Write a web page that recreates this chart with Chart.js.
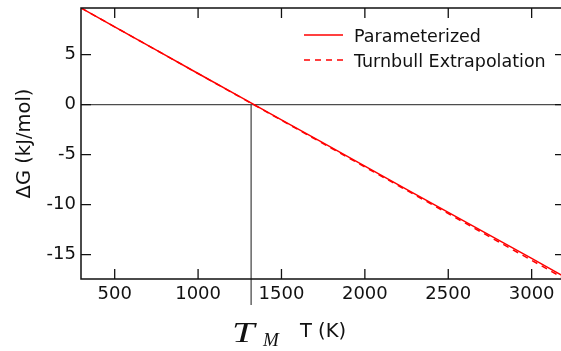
<!DOCTYPE html>
<html>
<head>
<meta charset="utf-8">
<script src="https://cdn.jsdelivr.net/npm/chart.js@4"></script>
<style>
  html, body { margin: 0; padding: 0; background: #fff; overflow: hidden; }
  #wrap { width: 567px; height: 351px; }
</style>
</head>
<body>
<div id="wrap"><canvas id="c" width="567" height="351"></canvas></div>
<script>
// Free energy difference vs temperature
const temperatures    = [298, 500, 750, 1000, 1250, 1500, 1750, 2000, 2250, 2500, 2750, 3000, 3200];
const parameterizedDG = [9.67, 7.78, 5.45, 3.12, 0.80, -1.52, -3.83, -6.15, -8.47, -10.78, -13.08, -15.38, -17.25];
const turnbullT       = [298, 3200];
const turnbullDG      = [9.67, -17.44];
const meltingPoint    = 1318;
const xTicks = [500, 1000, 1500, 2000, 2500, 3000];
const yTicks = [-15, -10, -5, 0, 5];
const xRange = [298, 3200];
const yRange = [-17.44, 9.67];
const seriesLabels = ['Parameterized', 'Turnbull Extrapolation'];

const FONT = "'DejaVu Sans', sans-serif";
Chart.defaults.font.family = FONT;
Chart.defaults.color = '#111';

const pts = (xs, ys) => xs.map((v, i) => ({ x: v, y: ys[i] }));

const decorations = {
  id: 'decorations',
  beforeDatasetsDraw(chart) {
    const { ctx, chartArea: a, scales: { x, y } } = chart;
    ctx.save();
    ctx.strokeStyle = '#4d4d4d';
    ctx.lineWidth = 1.3;
    const y0 = y.getPixelForValue(0);
    ctx.beginPath();
    ctx.moveTo(a.left, y0);
    ctx.lineTo(a.right, y0);
    ctx.stroke();
    // melting point marker
    const xm = x.getPixelForValue(meltingPoint);
    ctx.beginPath();
    ctx.moveTo(xm, y0);
    ctx.lineTo(xm, a.bottom + 26);
    ctx.stroke();
    ctx.restore();
  },
  afterDraw(chart) {
    const { ctx, chartArea: a, scales: { x, y } } = chart;
    ctx.save();
    // frame
    ctx.strokeStyle = '#111';
    ctx.lineWidth = 1.5;
    ctx.beginPath();
    ctx.moveTo(a.right, a.top);
    ctx.lineTo(a.left, a.top);
    ctx.lineTo(a.left, a.bottom);
    ctx.lineTo(a.right, a.bottom);
    ctx.stroke();
    // inward ticks on all four sides
    ctx.lineWidth = 1.3;
    const TL = 10;
    ctx.beginPath();
    x.ticks.forEach(t => {
      const px = x.getPixelForValue(t.value);
      ctx.moveTo(px, a.bottom); ctx.lineTo(px, a.bottom - TL);
      ctx.moveTo(px, a.top); ctx.lineTo(px, a.top + TL);
    });
    y.ticks.forEach(t => {
      const py = y.getPixelForValue(t.value);
      ctx.moveTo(a.left, py); ctx.lineTo(a.left + TL, py);
      ctx.moveTo(a.right, py); ctx.lineTo(a.right - TL, py);
    });
    ctx.stroke();

    // legend
    const lx = a.right - 261;
    const rows = [35, 60];
    chart.data.datasets.forEach((ds, i) => {
      const ly = rows[i];
      ctx.strokeStyle = ds.borderColor;
      ctx.lineWidth = 1.4;
      ctx.setLineDash(ds.borderDash || []);
      ctx.beginPath();
      ctx.moveTo(lx, ly);
      ctx.lineTo(lx + 39, ly);
      ctx.stroke();
      ctx.setLineDash([]);
      ctx.fillStyle = '#111';
      ctx.font = '17.5px ' + FONT;
      ctx.textAlign = 'left';
      ctx.textBaseline = 'alphabetic';
      ctx.fillText(ds.label, lx + 50, ly + 6.5);
    });

    // T_M label
    const xm = x.getPixelForValue(meltingPoint);
    ctx.fillStyle = '#111';
    ctx.textAlign = 'left';
    ctx.textBaseline = 'alphabetic';
    ctx.save();
    ctx.translate(xm - 19, 341.5);
    ctx.scale(1.35, 1);
    ctx.font = "italic 30px 'Liberation Serif', serif";
    ctx.fillText('T', 0, 0);
    ctx.restore();
    ctx.font = "italic 19px 'Liberation Serif', serif";
    ctx.fillText('M', xm + 12, 345.5);
    ctx.restore();
  }
};

new Chart(document.getElementById('c'), {
  type: 'scatter',
  data: {
    datasets: [
      {
        label: seriesLabels[0],
        data: pts(temperatures, parameterizedDG),
        showLine: true,
        borderColor: '#ff0000',
        borderWidth: 1.5,
        pointRadius: 0,
        order: 0
      },
      {
        label: seriesLabels[1],
        data: pts(turnbullT, turnbullDG),
        showLine: true,
        borderColor: '#ff0000',
        borderWidth: 1.5,
        borderDash: [6, 5],
        pointRadius: 0,
        order: 1
      }
    ]
  },
  options: {
    responsive: false,
    animation: false,
    layout: { padding: { top: 8, right: 2, left: 0, bottom: 0 } },
    plugins: { legend: { display: false }, tooltip: { enabled: false } },
    scales: {
      x: {
        type: 'linear',
        min: xRange[0],
        max: xRange[1],
        afterBuildTicks: s => { s.ticks = xTicks.map(v => ({ value: v })); },
        afterFit: s => { s.height = 72; s.paddingLeft = 0; s.paddingRight = 0; },
        grid: { display: false, drawTicks: false },
        border: { display: false },
        ticks: { font: { size: 18 }, padding: 5, color: '#111', callback: v => String(v) },
        title: { display: true, text: 'T (K)', font: { size: 19.5 }, padding: 7, color: '#111' }
      },
      y: {
        type: 'linear',
        min: yRange[0],
        max: yRange[1],
        afterBuildTicks: s => { s.ticks = yTicks.map(v => ({ value: v })); },
        afterFit: s => { s.width = 81; s.paddingTop = 0; s.paddingBottom = 0; },
        grid: { display: false, drawTicks: false },
        border: { display: false },
        ticks: { font: { size: 18 }, padding: 5, color: '#111', callback: v => String(v) },
        title: { display: true, text: 'ΔG (kJ/mol)', font: { size: 19.5 }, padding: 13, color: '#111' }
      }
    }
  },
  plugins: [decorations]
});
</script>
</body>
</html>
